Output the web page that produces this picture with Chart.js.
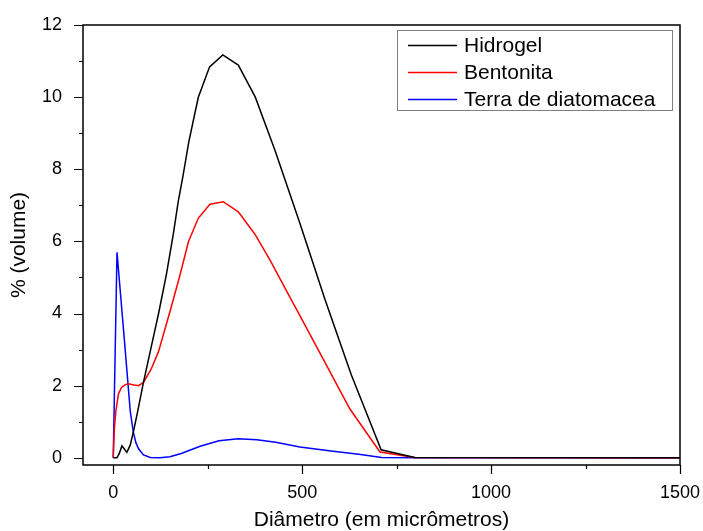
<!DOCTYPE html>
<html>
<head>
<meta charset="utf-8">
<script src="https://cdn.jsdelivr.net/npm/chart.js@4"></script>
<style>
  html, body { margin: 0; padding: 0; background: #fff; }
  #wrap { width: 703px; height: 531px; }
</style>
</head>
<body>
<div id="wrap"><canvas id="myChart" width="703" height="531"></canvas></div>
<script>
const seriesNames = ['Hidrogel', 'Bentonita', 'Terra de diatomacea'];
const seriesColors = ['#000000', '#ff0000', '#0000ff'];

const hidrogelX = [0, 10, 16, 23, 29, 36, 45, 54, 65, 80, 100, 120, 141, 159, 172, 185, 200, 225, 255, 290, 331, 376, 428, 494, 560, 630, 709, 798, 1500];
const hidrogelY = [0, 0, 0.12, 0.33, 0.25, 0.15, 0.35, 0.75, 1.3, 2.09, 3.05, 4.0, 5.1, 6.2, 7.1, 7.84, 8.76, 9.99, 10.84, 11.17, 10.89, 10.0, 8.53, 6.5, 4.4, 2.3, 0.22, 0.01, 0];

const bentonitaX = [0, 3, 7, 14, 22, 32, 40, 55, 67, 80, 100, 120, 150, 175, 199, 225, 256, 291, 331, 375, 415, 460, 494, 560, 626, 706, 798, 1500];
const bentonitaY = [0, 0.8, 1.3, 1.78, 1.95, 2.03, 2.05, 2.02, 2.0, 2.09, 2.45, 2.95, 4.05, 5.0, 5.99, 6.64, 7.03, 7.1, 6.82, 6.2, 5.48, 4.6, 3.94, 2.65, 1.36, 0.16, 0.01, 0];

const terraX = [0, 10, 20, 32, 45, 53, 60, 67, 80, 98, 124, 150, 180, 230, 280, 331, 380, 430, 494, 582, 650, 710, 800, 1500];
const terraY = [0, 5.7, 4.45, 2.95, 1.3, 0.72, 0.42, 0.25, 0.08, 0.01, 0, 0.03, 0.12, 0.32, 0.47, 0.53, 0.5, 0.43, 0.3, 0.18, 0.1, 0.01, 0, 0];

const xTicks = [0, 500, 1000, 1500];
const xMinorTicks = [250, 750, 1250];
const yTicks = [0, 2, 4, 6, 8, 10, 12];
const yMinorTicks = [1, 3, 5, 7, 9, 11];

function pts(xs, ys) {
    return xs.map((x, i) => ({ x: x, y: ys[i] }));
}

Chart.defaults.font.family = 'Arial, "Liberation Sans", sans-serif';
Chart.defaults.color = '#000';

// frame, tick marks and the boxed legend
const framePlugin = {
    id: 'frame',
    afterDatasetsDraw(chart) {
        const c = chart.ctx;
        const a = chart.chartArea;
        const xs = chart.scales.x, ys = chart.scales.y;
        c.save();
        c.strokeStyle = '#000';
        c.lineWidth = 1.5;
        c.strokeRect(a.left, a.top, a.right - a.left, a.bottom - a.top);
        c.lineWidth = 1.2;
        c.beginPath();
        xTicks.concat(xMinorTicks).forEach(v => {
            const px = Math.round(xs.getPixelForValue(v)) + 0.5;
            const len = xTicks.includes(v) ? 9 : 4;
            c.moveTo(px, a.bottom);
            c.lineTo(px, a.bottom + len);
        });
        yTicks.concat(yMinorTicks).forEach(v => {
            const py = Math.round(ys.getPixelForValue(v)) + 0.5;
            const len = yTicks.includes(v) ? 9 : 4;
            c.moveTo(a.left, py);
            c.lineTo(a.left - len, py);
        });
        c.stroke();

        // legend
        c.fillStyle = '#fff';
        c.fillRect(397, 30, 276, 81);
        c.strokeStyle = '#808080';
        c.lineWidth = 1;
        c.strokeRect(397.5, 30.5, 275, 80);
        c.font = '21px Arial, "Liberation Sans", sans-serif';
        c.textBaseline = 'middle';
        c.textAlign = 'left';
        chart.data.datasets.forEach((ds, i) => {
            const y = 45 + i * 27;
            c.strokeStyle = ds.borderColor;
            c.lineWidth = 1.5;
            c.beginPath();
            c.moveTo(408, y + 0.5);
            c.lineTo(457, y + 0.5);
            c.stroke();
            c.fillStyle = '#000';
            c.fillText(ds.label, 464, y + 1);
        });
        c.restore();
    }
};

const ctx = document.getElementById('myChart').getContext('2d');
const datasets = [pts(hidrogelX, hidrogelY), pts(bentonitaX, bentonitaY), pts(terraX, terraY)].map((d, i) => ({
    label: seriesNames[i],
    data: d,
    borderColor: seriesColors[i],
    backgroundColor: seriesColors[i],
    borderWidth: 1.5,
    pointRadius: 0,
    fill: false,
    tension: 0
}));

const myChart = new Chart(ctx, {
    type: 'line',
    data: { datasets: datasets },
    plugins: [framePlugin],
    options: {
        responsive: false,
        animation: false,
        layout: { padding: { top: 25, right: 23, left: 0, bottom: 0 } },
        plugins: {
            legend: { display: false },
            tooltip: { enabled: false }
        },
        scales: {
            x: {
                type: 'linear',
                min: -80,
                max: 1500,
                grid: { display: false, drawTicks: false },
                border: { display: false },
                afterBuildTicks(s) { s.ticks = xTicks.map(v => ({ value: v })); },
                afterFit(s) { s.height = 66; s.paddingLeft = 0; s.paddingRight = 0; },
                ticks: {
                    font: { size: 18, lineHeight: 1 },
                    padding: 19,
                    maxRotation: 0,
                    callback: v => String(v)
                },
                title: {
                    display: true,
                    text: 'Diâmetro (em micrômetros)',
                    font: { size: 21, lineHeight: 1 },
                    padding: { top: 0, bottom: 0 }
                }
            },
            y: {
                type: 'linear',
                min: -0.2,
                max: 12,
                grid: { display: false, drawTicks: false },
                border: { display: false },
                afterBuildTicks(s) { s.ticks = yTicks.map(v => ({ value: v })); },
                afterFit(s) { s.width = 83; s.paddingTop = 0; s.paddingBottom = 0; },
                ticks: {
                    font: { size: 18, lineHeight: 1 },
                    padding: 21,
                    callback: v => String(v)
                },
                title: {
                    display: true,
                    text: '% (volume)',
                    font: { size: 21, lineHeight: 1 },
                    padding: { top: 9, bottom: 0 }
                }
            }
        }
    }
});
</script>
</body>
</html>
